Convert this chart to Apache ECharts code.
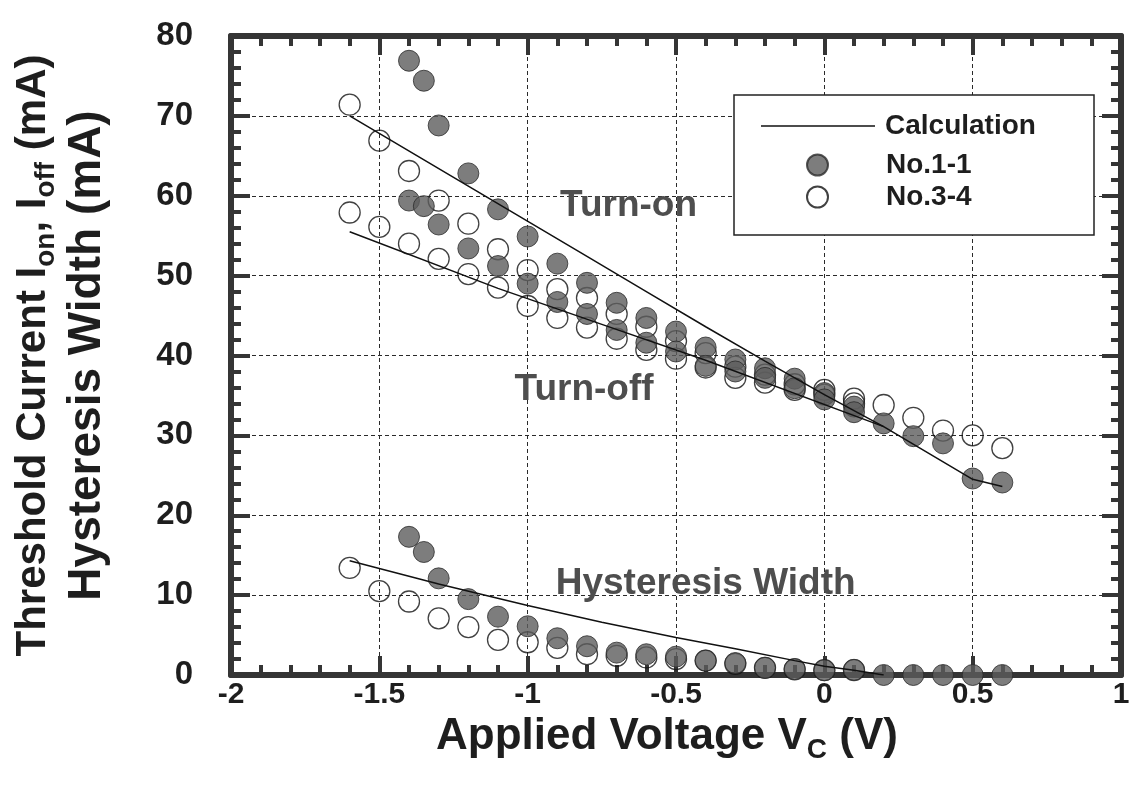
<!DOCTYPE html>
<html>
<head>
<meta charset="utf-8">
<script src="https://cdn.jsdelivr.net/npm/echarts@6.0.0/dist/echarts.min.js"></script>
<style>
  html, body { margin: 0; padding: 0; background: #ffffff; }
  #chart { width: 1134px; height: 801px; }
</style>
</head>
<body>
<div id="chart"></div>
<script>
// ---- Measured threshold currents (mA) versus applied voltage Vc (V) ----

// Sample No.1-1 (filled circles)
const voltOn11  = [-1.4, -1.35, -1.3, -1.2, -1.1, -1.0, -0.9, -0.8, -0.7, -0.6, -0.5, -0.4, -0.3, -0.2, -0.1, 0.0, 0.1, 0.2, 0.3, 0.4, 0.5, 0.6];
const turnOn11  = [76.9, 74.4, 68.8, 62.8, 58.3, 54.9, 51.5, 49.1, 46.6, 44.7, 43.0, 41.0, 39.5, 38.4, 37.1, 35.3, 33.6, 31.5, 29.9, 29.0, 24.6, 24.1];
const hyst11    = [17.3, 15.4, 12.1, 9.5, 7.3, 6.1, 4.6, 3.6, 2.8, 2.6, 2.3, 1.8, 1.5, 0.9, 0.75, 0.6, 0.65, 0, 0, 0, 0, 0];
const voltOff11 = [-1.4, -1.35, -1.3, -1.2, -1.1, -1.0, -0.9, -0.8, -0.7, -0.6, -0.5, -0.4, -0.3, -0.2, -0.1, 0.0, 0.1];
const turnOff11 = [59.4, 58.7, 56.4, 53.4, 51.2, 49.0, 46.7, 45.2, 43.2, 41.6, 40.5, 38.7, 38.0, 37.2, 35.9, 34.5, 32.9];

// Sample No.3-4 (open circles)
const voltOn34  = [-1.6, -1.5, -1.4, -1.3, -1.2, -1.1, -1.0, -0.9, -0.8, -0.7, -0.6, -0.5, -0.4, -0.3, -0.2, -0.1, 0.0, 0.1, 0.2, 0.3, 0.4, 0.5, 0.6];
const turnOn34  = [71.4, 66.9, 63.1, 59.4, 56.5, 53.3, 50.7, 48.3, 47.2, 45.2, 43.6, 41.8, 40.3, 38.6, 37.6, 36.4, 35.7, 34.6, 33.8, 32.2, 30.6, 30.0, 28.4];
const voltOff34 = [-1.6, -1.5, -1.4, -1.3, -1.2, -1.1, -1.0, -0.9, -0.8, -0.7, -0.6, -0.5, -0.4, -0.3, -0.2, -0.1, 0.0, 0.1];
const turnOff34 = [57.9, 56.1, 54.0, 52.1, 50.2, 48.5, 46.2, 44.7, 43.5, 42.1, 40.7, 39.6, 38.5, 37.2, 36.6, 35.7, 35.1, 34.0];
const hyst34    = [13.4, 10.5, 9.2, 7.1, 6.0, 4.4, 4.1, 3.4, 2.6, 2.4, 2.2, 2.0, 1.8, 1.4, 0.9, 0.7, 0.6, 0.6];

// Calculated curves
const calcOnV  = [-1.6, -1.2, -0.8, -0.6, -0.4, -0.2, 0.0, 0.2, 0.5, 0.6];
const calcOnI  = [70.0, 61.2, 52.4, 48.0, 43.6, 39.3, 35.1, 31.1, 24.5, 23.6];
const calcOffV = [-1.6, -1.1, -0.75, -0.4, 0.2];
const calcOffI = [55.5, 48.4, 43.9, 39.4, 31.1];
const calcHysV = [-1.6, -1.3, -1.0, -0.75, -0.5, -0.3, -0.1, 0.0, 0.1, 0.2];
const calcHysI = [14.3, 11.4, 8.7, 6.6, 4.7, 3.3, 1.8, 1.1, 0.6, 0.0];

// Curve annotations (text and the data point they are centred on)
const noteText = ['Turn-on', 'Turn-off', 'Hysteresis Width'];
const noteVolt = [-0.66, -0.81, -0.40];
const noteCurr = [58.8, 35.7, 11.4];

// Axis ranges
const xMin = -2, xMax = 1, xStep = 0.5;
const yMin = 0, yMax = 80, yStep = 10;

const pairs = (xs, ys) => xs.map((x, k) => [x, ys[k]]);

const FONT = "'Liberation Sans', Arial, Helvetica, sans-serif";
const INK = '#1e1e1e';
const FRAME = '#353535';

function frameAxis(extra) {
  return Object.assign({
    type: 'value',
    axisLine: { show: true, onZero: false, lineStyle: { color: FRAME, width: 6 } },
    axisTick: { show: true, inside: true, length: 19, lineStyle: { color: FRAME, width: 4 } },
    minorTick: { show: true, splitNumber: 5, length: 10, lineStyle: { color: FRAME, width: 4 } },
    splitLine: { show: false },
    minorSplitLine: { show: false },
    axisLabel: { show: false }
  }, extra);
}

const gridDash = { show: true, lineStyle: { color: '#2a2a2a', width: 1, type: [4, 3] } };

const filledStyle = { color: '#5c5c5c', borderColor: '#2b2b2b', borderWidth: 1 };
const openStyle = { color: 'rgba(0,0,0,0)', borderColor: '#111111', borderWidth: 1.3 };
const calcStyle = { color: '#111111', width: 1.5 };

const titleRich = (size) => ({
  m: { fontSize: 42, fontWeight: 'bold', fontFamily: FONT, color: INK, lineHeight: 54 },
  w: { fontSize: size, fontWeight: 'bold', fontFamily: FONT, color: INK, lineHeight: 54 },
  s: { fontSize: 28, fontWeight: 'bold', fontFamily: FONT, color: INK, lineHeight: 28, verticalAlign: 'bottom' }
});

const chart = echarts.init(document.getElementById('chart'), null, { renderer: 'canvas' });

const option = {
  animation: false,
  backgroundColor: '#ffffff',
  grid: { left: 231, right: 13, top: 36, bottom: 126, containLabel: false },
  xAxis: [
    frameAxis({
      position: 'bottom', min: xMin, max: xMax, interval: xStep,
      splitLine: gridDash,
      axisLabel: { show: true, margin: 5, fontSize: 30, fontWeight: 'bold', fontFamily: FONT, color: INK },
      name: '{w|Applied Voltage V}{s|C}{w| (V)}',
      nameLocation: 'middle', nameGap: 35,
      nameTextStyle: { padding: [0, 18, 0, 0], rich: titleRich(44) }
    }),
    frameAxis({ position: 'top', min: xMin, max: xMax, interval: xStep })
  ],
  yAxis: [
    frameAxis({
      position: 'left', min: yMin, max: yMax, interval: yStep,
      splitLine: gridDash,
      axisLabel: { show: true, margin: 38, fontSize: 33, fontWeight: 'bold', fontFamily: FONT, color: INK },
      name: '{m|Threshold Current I}{s|on}{m|, I}{s|off}{m| (mA)}\n{w|Hysteresis Width (mA)}',
      nameLocation: 'middle', nameRotate: 90, nameGap: 117,
      nameTextStyle: { align: 'center', rich: titleRich(46) }
    }),
    frameAxis({ position: 'right', min: yMin, max: yMax, interval: yStep })
  ],
  legend: [
    {
      data: [{ name: 'Calculation', icon: 'rect' }], left: 761, top: 112, padding: 0,
      itemWidth: 114, itemHeight: 1.5,
      selectedMode: false, z: 10,
      textStyle: { fontSize: 28, fontWeight: 'bold', fontFamily: FONT, color: INK, lineHeight: 28, padding: [0, 0, 0, 5] }
    },
    {
      data: ['No.1-1'], left: 806, top: 151, padding: 0, itemWidth: 21, itemHeight: 21,
      selectedMode: false, z: 10,
      textStyle: { fontSize: 28, fontWeight: 'bold', fontFamily: FONT, color: INK, lineHeight: 28, padding: [0, 0, 0, 53] }
    },
    {
      data: ['No.3-4'], left: 806, top: 183, padding: 0, itemWidth: 21, itemHeight: 21,
      selectedMode: false, z: 10,
      textStyle: { fontSize: 28, fontWeight: 'bold', fontFamily: FONT, color: INK, lineHeight: 28, padding: [0, 0, 0, 53] }
    }
  ],
  series: [
    {
      name: 'No.3-4', type: 'scatter', symbol: 'circle', symbolSize: 21, z: 2,
      itemStyle: openStyle,
      data: pairs(voltOn34, turnOn34).concat(pairs(voltOff34, turnOff34), pairs(voltOff34, hyst34))
    },
    {
      name: 'No.1-1', type: 'scatter', symbol: 'circle', symbolSize: 21, z: 3,
      itemStyle: filledStyle,
      data: pairs(voltOn11, turnOn11).concat(pairs(voltOff11, turnOff11), pairs(voltOn11, hyst11))
    },
    {
      name: 'Calculation', type: 'line', symbol: 'none', z: 4,
      lineStyle: calcStyle, itemStyle: { color: '#111111' },
      data: pairs(calcOnV, calcOnI)
    },
    {
      name: 'Calculation', type: 'line', symbol: 'none', z: 4,
      lineStyle: calcStyle, itemStyle: { color: '#111111' },
      data: pairs(calcOffV, calcOffI)
    },
    {
      name: 'Calculation', type: 'line', symbol: 'none', z: 4,
      lineStyle: calcStyle, itemStyle: { color: '#111111' },
      data: pairs(calcHysV, calcHysI)
    }
  ]
};

chart.setOption(option);

// Legend frame and curve annotations
const notes = noteText.map((t, k) => {
  const p = chart.convertToPixel({ xAxisIndex: 0, yAxisIndex: 0 }, [noteVolt[k], noteCurr[k]]);
  return {
    type: 'text', x: p[0], y: p[1], z: 6,
    style: {
      text: t, align: 'center', verticalAlign: 'middle',
      fontSize: 37, fontWeight: 'bold', fontFamily: FONT, fill: '#4e4e4e'
    }
  };
});

chart.setOption({
  graphic: [
    {
      type: 'rect', z: 5,
      shape: { x: 734, y: 95, width: 360, height: 140 },
      style: { fill: '#ffffff', stroke: '#222222', lineWidth: 1.5 }
    }
  ].concat(notes)
});
</script>
</body>
</html>
